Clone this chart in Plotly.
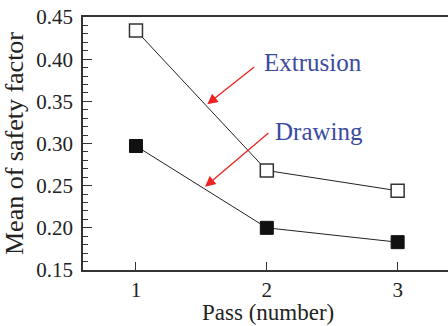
import plotly.graph_objects as go

passes = [1, 2, 3]
extrusion = [0.434, 0.268, 0.244]
drawing = [0.297, 0.200, 0.183]
y_ticks = [0.15, 0.20, 0.25, 0.30, 0.35, 0.40, 0.45]
x_ticks = [1, 2, 3]

FONT = "Liberation Serif"
AX = "#333333"
BLUE = "#3c4ba0"
RED = "#ee2222"

fig = go.Figure()
fig.add_trace(go.Scatter(
    x=passes, y=extrusion, mode="lines+markers", name="Extrusion",
    line=dict(color="#222222", width=1),
    marker=dict(symbol="square", size=13, color="white",
                line=dict(color="#333333", width=1.5)),
))
fig.add_trace(go.Scatter(
    x=passes, y=drawing, mode="lines+markers", name="Drawing",
    line=dict(color="#222222", width=1),
    marker=dict(symbol="square", size=13, color="#111111",
                line=dict(color="#111111", width=1)),
))

annots = [
    dict(text="Extrusion", tx=1.965, ty=0.3966, x0=1.915, y0=0.3922, x1=1.545, y1=0.3465),
    dict(text="Drawing", tx=2.05, ty=0.3148, x0=2.024, y0=0.314, x1=1.528, y1=0.2488),
]
for a in annots:
    fig.add_annotation(x=a["x1"], y=a["y1"], ax=a["x0"], ay=a["y0"],
                       xref="x", yref="y", axref="x", ayref="y",
                       text="", showarrow=True, arrowhead=2, arrowsize=1.6,
                       arrowwidth=1.3, arrowcolor=RED)
    fig.add_annotation(x=a["tx"], y=a["ty"], xref="x", yref="y",
                       text=a["text"], showarrow=False, xanchor="left",
                       yanchor="middle",
                       font=dict(family=FONT, size=25, color=BLUE))

# x-axis title placed as paper annotation at the bottom edge
fig.add_annotation(x=0.5077, y=-0.2213, xref="paper", yref="paper",
                   text="Pass (number)", showarrow=False, borderpad=0,
                   xanchor="center", yanchor="bottom",
                   font=dict(family=FONT, size=23, color="#222222"))

fig.update_layout(
    width=448, height=326,
    margin=dict(l=83, r=0, t=17, b=56),
    paper_bgcolor="white", plot_bgcolor="white",
    showlegend=False,
    font=dict(family=FONT, color="#222222"),
    xaxis=dict(
        range=[0.595, 3.385], tickvals=x_ticks, ticktext=[str(v) for v in x_ticks],
        ticks="inside", ticklen=8, tickwidth=1, tickcolor=AX,
        showline=True, linecolor=AX, linewidth=1.5, mirror=True,
        showgrid=False, zeroline=False, ticklabelstandoff=0, automargin=False,
        tickfont=dict(family=FONT, size=21, color="#222222"),
    ),
    yaxis=dict(
        range=[0.15, 0.45], tickvals=y_ticks, tickformat=".2f",
        ticks="inside", ticklen=9, tickwidth=1, tickcolor=AX,
        minor=dict(dtick=0.01, ticks="inside", ticklen=5, tickwidth=1, tickcolor=AX, showgrid=False),
        showline=True, linecolor=AX, linewidth=1.5, automargin=False,
        showgrid=False, zeroline=False, ticklabelstandoff=4,
        tickfont=dict(family=FONT, size=21, color="#222222"),
        title=dict(text="Mean of safety factor", font=dict(family=FONT, size=26, color="#222222")),
    ),
)
fig.write_html("out.html")
